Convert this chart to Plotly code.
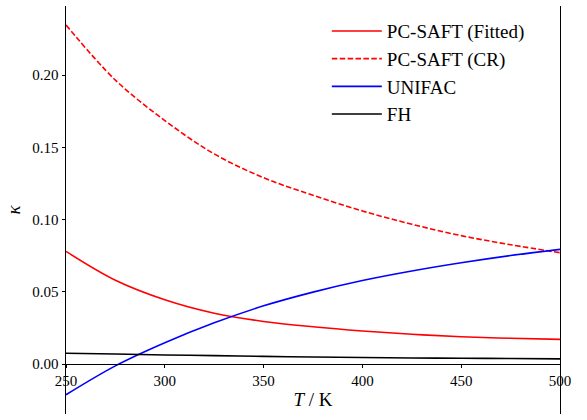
import plotly.graph_objects as go

T = [250, 275, 300, 325, 350, 375, 400, 425, 450, 475, 500]
pcsaft_fitted = [0.0780, 0.0580, 0.0445, 0.0352, 0.0295, 0.0258, 0.0229, 0.0206, 0.0189, 0.0178, 0.0171]
pcsaft_cr = [0.2348, 0.1966, 0.1686, 0.1455, 0.1290, 0.1168, 0.1060, 0.0968, 0.0889, 0.0826, 0.0771]
unifac = [-0.0213, -0.0013, 0.0147, 0.0285, 0.0403, 0.0498, 0.0578, 0.0644, 0.0701, 0.0751, 0.0794]
fh = [0.0075, 0.0069, 0.0063, 0.0058, 0.0053, 0.0049, 0.0045, 0.0042, 0.0040, 0.0038, 0.0036]

x_ticks = [250, 300, 350, 400, 450, 500]
y_ticks = [0.00, 0.05, 0.10, 0.15, 0.20]

FONT = "Liberation Serif"
y_range = [-0.0346, 0.2479]

fig = go.Figure()
fig.add_trace(go.Scatter(x=T, y=pcsaft_fitted, mode="lines", name="PC-SAFT (Fitted)",
                         line=dict(color="#ff0000", width=1.6, shape="spline")))
fig.add_trace(go.Scatter(x=T, y=pcsaft_cr, mode="lines", name="PC-SAFT (CR)",
                         line=dict(color="#ff0000", width=1.6, dash="5.5px,2.4px", shape="spline")))
fig.add_trace(go.Scatter(x=T, y=unifac, mode="lines", name="UNIFAC",
                         line=dict(color="#0000ff", width=1.6, shape="spline")))
fig.add_trace(go.Scatter(x=T, y=fh, mode="lines", name="FH",
                         line=dict(color="#000000", width=1.6, shape="spline")))

fig.update_layout(
    width=587, height=420,
    margin=dict(l=66, r=27, t=6, b=6, autoexpand=False),
    paper_bgcolor="white", plot_bgcolor="white",
    font=dict(family=FONT, color="black", size=15),
    showlegend=True,
    legend=dict(x=0.528, y=0.985, xanchor="left", yanchor="top",
                bgcolor="rgba(0,0,0,0)", font=dict(size=19, family=FONT),
                itemwidth=50),
    xaxis=dict(
        range=[250, 500], tickvals=x_ticks, ticktext=[str(v) for v in x_ticks],
        anchor="free", position=(0 - y_range[0]) / (y_range[1] - y_range[0]),
        showline=True, linecolor="black", linewidth=0.8,
        ticks="outside", ticklen=3.5, tickwidth=0.8, tickcolor="black",
        showgrid=False, zeroline=False, mirror=False, automargin=False,
        tickfont=dict(size=15, family=FONT),
        title=dict(text="<i>T</i> / K", font=dict(size=19, family=FONT), standoff=4),
    ),
    yaxis=dict(
        range=y_range, tickvals=y_ticks, ticktext=["%.2f" % v for v in y_ticks],
        showline=True, linecolor="black", linewidth=0.8, mirror=True,
        ticks="outside", ticklen=3.5, tickwidth=0.8, tickcolor="black",
        showgrid=False, zeroline=False, automargin=False,
        tickfont=dict(size=15, family=FONT),
        title=dict(text="<i>κ</i>", font=dict(size=19, family=FONT), standoff=6),
    ),
)

fig.write_html("out.html", config={"displayModeBar": False},
               post_script="document.body.style.margin='0';")
